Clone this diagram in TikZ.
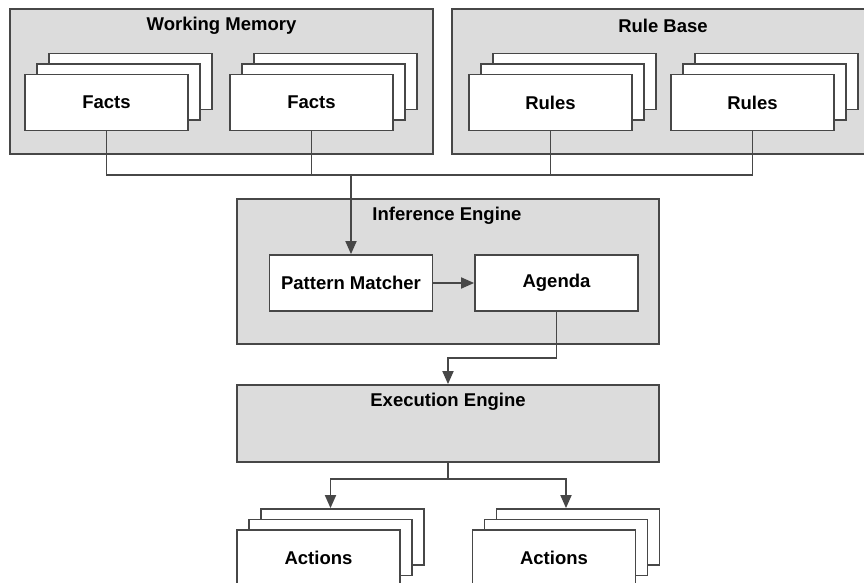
\documentclass[tikz,border=0pt]{standalone}
\usepackage{fontspec}
\setmainfont{Liberation Sans}
\usetikzlibrary{arrows.meta,shadows,calc}
\definecolor{linegray}{HTML}{474747}
\definecolor{panelgray}{HTML}{DCDCDC}
\tikzset{
  panel/.style={draw=linegray, line width=0.9pt, fill=panelgray, inner sep=0pt},
  card/.style={draw=linegray, line width=0.9pt, fill=white, minimum width=81.5pt, minimum height=28pt, inner sep=0pt,
    font=\fontsize{9.25}{11}\selectfont\bfseries},
  stack/.style={card, double copy shadow={shadow xshift=6pt, shadow yshift=5.25pt, fill=white, draw=linegray, line width=0.9pt}},
  title/.style={font=\fontsize{9.25}{11}\selectfont\bfseries, inner sep=0pt},
  link/.style={draw=linegray, line width=0.9pt},
  arr/.style={link, -{Triangle[length=6.5pt, width=5.5pt]}}
}
\begin{document}
\begin{tikzpicture}[x=0.5pt, y=-0.5pt]
    % Khung ảnh
    \useasboundingbox (0,0) rectangle (864,583);
    \clip (0,0) rectangle (864,583);

    % Hai khối trên cùng
    \node[panel, minimum width=211.5pt, minimum height=72.5pt] (wm) at (221.5,81.5) {};
    \node[panel, minimum width=211.5pt, minimum height=72.5pt] (rb) at (663.5,81.5) {};
    \node[title] (wmt) at (221.5,26) {Working Memory};
    \node[title] (rbt) at (663,26) {Rule Base};

    % Các thẻ Facts và Rules
    \foreach \x/\n in {106.5/f1, 311.5/f2}
    \node[stack] (\n) at (\x,102.5) {Facts};
    \foreach \x/\n in {550.5/r1, 752.5/r2}
    \node[stack] (\n) at (\x,102.5) {Rules};

    % Inference Engine
    \node[panel, minimum width=211pt, minimum height=72.5pt] (ie) at (448,271.5) {};
    \node[title] (iet) at (447,216) {Inference Engine};
    \node[card] (pm) at (351,283) {Pattern Matcher};
    \node[card] (ag) at (556.5,283) {Agenda};

    % Execution Engine
    \node[panel, minimum width=211pt, minimum height=38.5pt] (ex) at (448,423.5) {};
    \node[title] (ext) at (448,402) {Execution Engine};

    % Actions
    \node[stack] (a1) at (318.5,558) {Actions};
    \node[stack] (a2) at (554,558) {Actions};

    % Đường nối
    \coordinate (bus) at (351,175);
    \draw[link] (f1.south) |- (bus);
    \draw[link] (r2.south) |- (bus);
    \draw[link] (f2.south) -- (f2.south |- bus);
    \draw[link] (r1.south) -- (r1.south |- bus);
    \draw[arr] (bus) -- (pm.north);
    \draw[arr] (pm.east) -- (ag.west);

    \coordinate (mid) at (448,358);
    \draw[arr] (ag.south) |- (mid) -- (ex.north);

    \coordinate (split) at (448,479);
    \draw[link] (ex.south) -- (split);
    \draw[arr] (split) -| ($(a1.north)+(12,-21)$);
    \draw[arr] (split) -| ($(a2.north)+(12,-21)$);
\end{tikzpicture}
\end{document}
